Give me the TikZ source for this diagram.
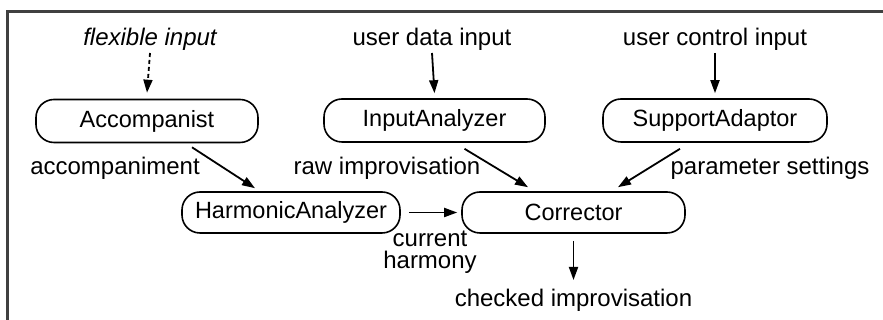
\documentclass[tikz,border=0pt]{standalone}
\usepackage{fontspec}
\setmainfont{Liberation Sans}
\usetikzlibrary{arrows.meta,calc}
\begin{document}
\begin{tikzpicture}[x=1pt,y=1pt,
  proc/.style={draw=black,line width=1.6pt,rounded corners=18pt,minimum height=43pt,inner sep=0pt,font=\fontsize{23.5}{26}\selectfont},
  lbl/.style={inner sep=0pt,font=\fontsize{24}{22.5}\selectfont,align=center},
  arr/.style={line width=1.8pt,-{Triangle[length=13pt,width=9pt]}},
  frame/.style={line width=2.5pt,draw=black!75}
]
\useasboundingbox (0,0) rectangle (883,320);
\draw[frame] (7.5,0) |- (883,308.5);

\node[proc,minimum width=222pt] (acc) at (147,199) {Accompanist};
\node[proc,minimum width=221pt] (inp) at (434.5,199.5) {InputAnalyzer};
\node[proc,minimum width=224pt] (sup) at (715,199.5) {SupportAdaptor};
\node[proc,minimum width=218pt,minimum height=41pt] (harm) at (291,107.5) {HarmonicAnalyzer};
\node[proc,minimum width=223pt,minimum height=41pt] (corr) at (573.5,107.5) {Corrector};

\node[lbl,font=\fontsize{24}{19}\selectfont\itshape] (flex) at (150,281) {flexible input};
\node[lbl] (udi) at (432,281) {user data input};
\node[lbl] (uci) at (715,281) {user control input};
\node[lbl] (lacc) at (115,152) {accompaniment};
\node[lbl] (lraw) at (387,152) {raw improvisation};
\node[lbl] (lpar) at (770,152) {parameter settings};
\node[lbl] (lcur) at (430,68) {current\\harmony};
\node[lbl] (chk) at (573.5,20) {checked improvisation};

\draw[arr,dash pattern=on 4pt off 3pt] ([yshift=-14pt]flex.center) -- ([yshift=6pt]acc.north);
\draw[arr] ([yshift=-14pt]udi.center) -- ([yshift=5pt]inp.north);
\draw[arr] ([yshift=-14pt]uci.center) -- ([yshift=5pt]sup.north);
\draw[arr] ($(acc.south)+(45,-4)$) -- ($(harm.north)+(-36,3)$);
\draw[arr] ($(inp.south)+(30,-6)$) -- ($(corr.north)+(-45.5,4)$);
\draw[arr] ($(sup.south)+(-35,-6)$) -- ($(corr.north)+(44.5,4)$);
\draw[arr] ([xshift=8pt]harm.east) -- ([xshift=-4pt]corr.west);
\draw[arr] ([yshift=-7pt]corr.south) -- ([yshift=20pt]chk.center);
\end{tikzpicture}
\end{document}
